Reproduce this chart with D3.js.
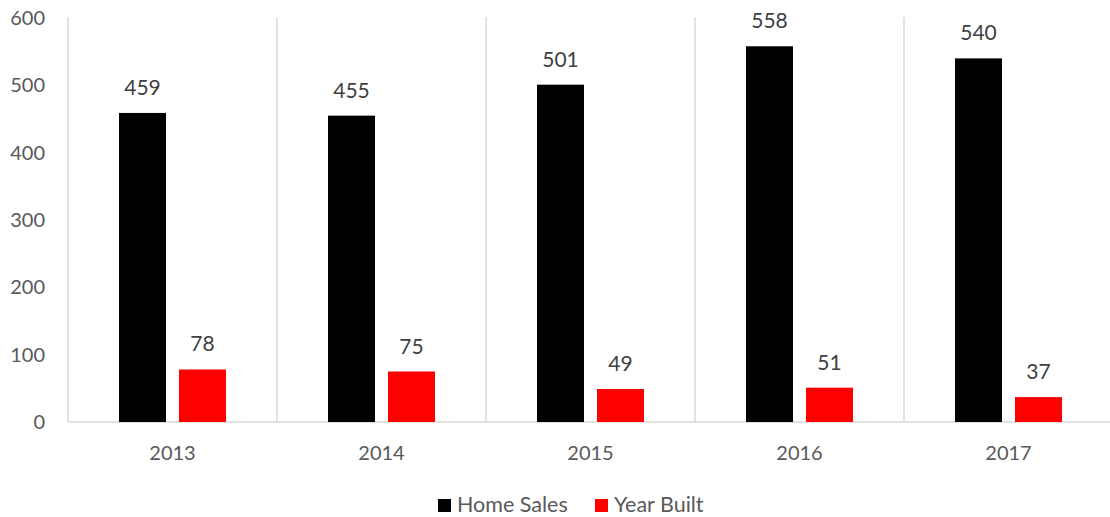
<!DOCTYPE html>
<html>
<head>
<meta charset="utf-8">
<script src="https://cdn.jsdelivr.net/npm/d3@7"></script>
<style>
  html, body { margin: 0; padding: 0; background: #fff; }
  svg { display: block; font-family: Lato, "Open Sans", sans-serif; }
</style>
</head>
<body>
<svg id="chart" width="1110" height="517"></svg>
<script>
// Annual counts by year
const years = ["2013", "2014", "2015", "2016", "2017"];
const seriesNames = ["Home Sales", "Year Built"];
const homeSales = [459, 455, 501, 558, 540];
const yearBuilt = [78, 75, 49, 51, 37];
const seriesColors = ["#000000", "#ff0000"];
const yTicks = [0, 100, 200, 300, 400, 500, 600];

const svg = d3.select("#chart");
const plotLeft = 68, plotRight = 1113, plotTop = 18, plotBottom = 422;
const textColor = "#595959";
const gridColor = "#d9d9d9";

const x0 = d3.scaleBand().domain(years).range([plotLeft, plotRight]).padding(0);
const x1 = d3.scaleBand().domain(seriesNames).range([0, x0.bandwidth()])
  .paddingInner(0.2167).paddingOuter(0.85);
const y = d3.scaleLinear().domain([0, 600]).range([plotBottom, plotTop]);
const color = d3.scaleOrdinal().domain(seriesNames).range(seriesColors);

const rows = years.map((yr, i) => ({ year: yr, values: [
  { name: seriesNames[0], value: homeSales[i] },
  { name: seriesNames[1], value: yearBuilt[i] }
]}));

// Vertical separators between categories
svg.append("g").selectAll("line")
  .data(years)
  .join("line")
  .attr("x1", d => x0(d)).attr("x2", d => x0(d))
  .attr("y1", plotTop - 1).attr("y2", plotBottom)
  .attr("stroke", gridColor).attr("stroke-width", 1.5);

// Baseline
svg.append("line")
  .attr("x1", plotLeft).attr("x2", plotRight)
  .attr("y1", y(0)).attr("y2", y(0))
  .attr("stroke", gridColor).attr("stroke-width", 1.5);

// Y tick labels
const yAxis = svg.append("g")
  .attr("transform", `translate(${45},0)`)
  .call(d3.axisLeft(y).tickValues(yTicks).tickSize(0).tickPadding(0));
yAxis.select(".domain").remove();
yAxis.selectAll("text")
  .attr("fill", textColor).style("font-size", "20px")
  .style("font-family", "Lato, 'Open Sans', sans-serif");

// X tick labels
const xAxis = svg.append("g")
  .attr("transform", `translate(0,${plotBottom})`)
  .call(d3.axisBottom(x0).tickSize(0).tickPadding(24));
xAxis.select(".domain").remove();
xAxis.selectAll("text")
  .attr("fill", textColor).style("font-size", "20px")
  .style("font-family", "Lato, 'Open Sans', sans-serif");

// Bars and value labels
const groups = svg.append("g").selectAll("g")
  .data(rows)
  .join("g")
  .attr("transform", d => `translate(${x0(d.year)},0)`);

groups.selectAll("rect")
  .data(d => d.values)
  .join("rect")
  .attr("x", d => x1(d.name))
  .attr("width", x1.bandwidth())
  .attr("y", d => y(d.value))
  .attr("height", d => y(0) - y(d.value))
  .attr("fill", d => color(d.name));

groups.selectAll("text")
  .data(d => d.values)
  .join("text")
  .attr("x", d => x1(d.name) + x1.bandwidth() / 2)
  .attr("y", d => y(d.value) - 18)
  .attr("text-anchor", "middle")
  .attr("fill", "#404040")
  .style("font-size", "21px")
  .text(d => d.value);

// Legend
const legend = svg.append("g");
const legendItems = [
  { name: seriesNames[0], x: 438 },
  { name: seriesNames[1], x: 595 }
];
legendItems.forEach(item => {
  legend.append("rect")
    .attr("x", item.x).attr("y", 499)
    .attr("width", 13).attr("height", 13)
    .attr("fill", color(item.name));
  legend.append("text")
    .attr("x", item.x + 19).attr("y", 512)
    .attr("fill", textColor)
    .style("font-size", "21.5px")
    .text(item.name);
});
</script>
</body>
</html>
